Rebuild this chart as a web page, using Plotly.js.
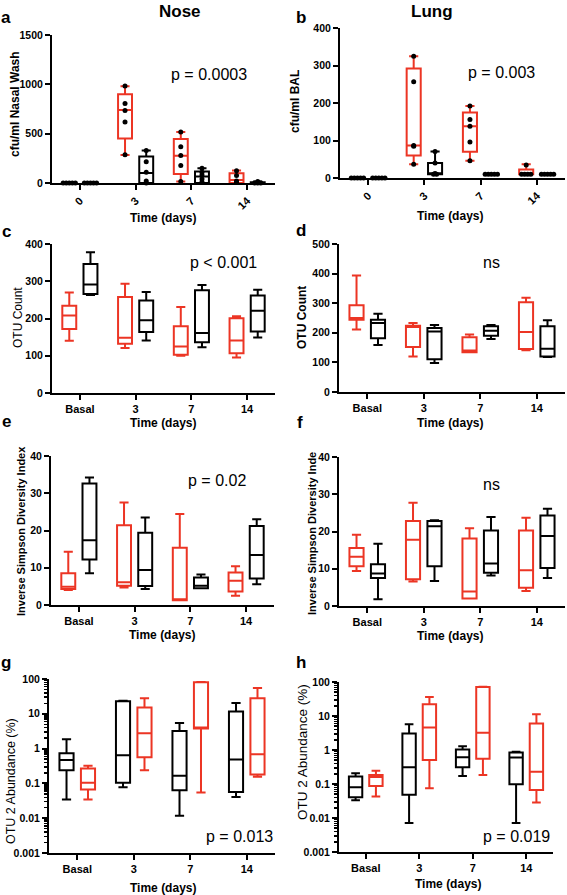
<!DOCTYPE html>
<html><head><meta charset="utf-8">
<script src="https://cdn.plot.ly/plotly-3.0.1.min.js"></script>
<style>html,body{margin:0;padding:0;background:#fff}#chart{width:567px;height:895px}</style>
</head><body><div id="chart"></div>
<script>
// ---------------- DATA ----------------
// each box: [lowerWhisker, q1, median, q3, upperWhisker] per category
const catsCfu = ['0', '3', '7', '14'];
const catsTime = ['Basal', '3', '7', '14'];

const noseCfuRed   = [[0,0,0,0,0],[285,450,740,900,980],[14,92,276,446,517],[0,0,30,99,126]];
const noseCfuBlack = [[0,0,0,0,0],[0,0,102,269,330],[0,0,65,116,150],[0,0,0,8,15]];
const noseCfuRedPts   = [[0,0,0,0,0],[983,806,735,619,286],[517,367,279,177,14],[125,75,20,10,5]];
const noseCfuBlackPts = [[0,0,0,0,0],[330,215,110,20,0],[150,110,80,40,10],[15,5,0,0,0]];

const lungCfuRed   = [[0,0,0,0,0],[37,60,87,292,325],[46,70,138,175,192],[10,10,10,23,37]];
const lungCfuBlack = [[0,0,0,0,0],[10,10,12,40,71],[10,10,10,10,10],[10,10,10,10,10]];
const lungCfuRedPts   = [[0,0,0,0,0],[325,257,87,85,37],[192,156,138,96,46],[35,10,10,10,10]];
const lungCfuBlackPts = [[0,0,0,0,0],[71,40,12,10,10],[10,10,10,10,10],[10,10,10,10,10]];

const noseOtuRed   = [[140,172,208,234,270],[121,132,148,258,293],[100,103,125,179,231],[95,107,141,201,206]];
const noseOtuBlack = [[263,266,291,346,378],[141,164,195,248,271],[123,136,161,276,290],[149,165,221,262,277]];

const lungOtuRed   = [[211,244,250,293,394],[120,152,220,224,233],[134,134,140,185,194],[141,145,203,303,318]];
const lungOtuBlack = [[159,182,233,244,264],[98,111,204,216,226],[179,190,207,222,226],[118,120,146,222,242]];

const noseSimpRed   = [[4.0,4.3,4.9,8.5,14.3],[4.7,5.2,6.1,21.4,27.5],[1.3,1.3,1.5,15.4,24.4],[2.5,3.6,6.5,8.75,10.4]];
const noseSimpBlack = [[8.5,12.2,17.4,32.6,34.2],[4.3,5.1,9.4,19.4,23.5],[4.5,4.5,5.2,7.4,8.2],[5.6,7.1,13.4,21.2,23.0]];

const lungSimpRed   = [[9.4,10.7,13.2,15.6,19.1],[6.6,7.2,17.8,22.8,27.7],[2.0,2.0,3.9,18.1,20.9],[4.0,4.9,9.6,20.3,23.7]];
const lungSimpBlack = [[1.8,7.5,8.7,11.2,16.7],[6.7,10.7,21.4,22.8,23.0],[8.2,8.9,11.4,20.3,23.9],[7.5,10.2,18.8,24.3,26.1]];

const noseOtu2Black = [[0.0345,0.24,0.47,0.73,1.86],[0.077,0.105,0.64,23,23.7],[0.0117,0.064,0.166,3.2,5.4],[0.041,0.057,0.49,11.7,20.3]];
const noseOtu2Red   = [[0.0345,0.067,0.105,0.27,0.32],[0.24,0.56,2.77,15.2,28],[0.055,3.8,3.9,80,82],[0.155,0.18,0.69,28,55]];

const lungOtu2Black = [[0.033,0.041,0.080,0.165,0.206],[0.0071,0.048,0.31,3.06,5.75],[0.172,0.31,0.61,1.04,1.3],[0.0071,0.098,0.6,0.85,0.89]];
const lungOtu2Red   = [[0.043,0.088,0.16,0.185,0.247],[0.075,0.51,4.6,22,36],[0.185,0.55,3.2,71,72],[0.0285,0.067,0.23,6.0,11.3]];

const linTicksCfuNose = [0, 500, 1000, 1500];
const linTicksCfuLung = [0, 100, 200, 300, 400];
const linTicksOtuNose = [0, 100, 200, 300, 400];
const linTicksOtuLung = [0, 100, 200, 300, 400, 500];
const linTicksSimp = [0, 10, 20, 30, 40];
const logTicks = [0.001, 0.01, 0.1, 1, 10, 100];
const logTickText = ['0.001', '0.01', '0.1', '1', '10', '100'];

// ---------------- STYLE / LAYOUT ----------------
const W = 567, H = 895;
const FONT = 'Liberation Sans, Arial, sans-serif';
const RED = '#ec3524', BLACK = '#000000';
const px = x => x / W, py = y => 1 - y / H;

const panels = [
  {xd:[52,275], yd:[35,183], cats:catsCfu, rot:true, range:[0,1500], ticks:linTicksCfuNose,
   series:[{d:noseCfuRed,c:RED,o:-0.19,pts:noseCfuRedPts},{d:noseCfuBlack,c:BLACK,o:0.19,pts:noseCfuBlackPts}]},
  {xd:[340,565], yd:[28,178], cats:catsCfu, rot:true, range:[0,400], ticks:linTicksCfuLung,
   series:[{d:lungCfuRed,c:RED,o:-0.19,pts:lungCfuRedPts},{d:lungCfuBlack,c:BLACK,o:0.19,pts:lungCfuBlackPts}]},
  {xd:[52,275], yd:[244,393], cats:catsTime, range:[0,400], ticks:linTicksOtuNose,
   series:[{d:noseOtuRed,c:RED,o:-0.19},{d:noseOtuBlack,c:BLACK,o:0.19}]},
  {xd:[339,565], yd:[244,392], cats:catsTime, range:[0,500], ticks:linTicksOtuLung,
   series:[{d:lungOtuRed,c:RED,o:-0.19},{d:lungOtuBlack,c:BLACK,o:0.19}]},
  {xd:[51,274], yd:[456,605], cats:catsTime, range:[0,40], ticks:linTicksSimp,
   series:[{d:noseSimpRed,c:RED,o:-0.19},{d:noseSimpBlack,c:BLACK,o:0.19}]},
  {xd:[339,565], yd:[457,606], cats:catsTime, range:[0,40], ticks:linTicksSimp,
   series:[{d:lungSimpRed,c:RED,o:-0.19},{d:lungSimpBlack,c:BLACK,o:0.19}]},
  {xd:[49,275], yd:[679,853], cats:catsTime, log:true,
   series:[{d:noseOtu2Black,c:BLACK,o:-0.19},{d:noseOtu2Red,c:RED,o:0.19}]},
  {xd:[339,553], yd:[682,852], cats:catsTime, log:true,
   series:[{d:lungOtu2Black,c:BLACK,o:-0.19},{d:lungOtu2Red,c:RED,o:0.19}]}
];

const minorLog = [];
for (let k = -3; k <= 1; k++) for (let m = 2; m <= 9; m++) minorLog.push(m * Math.pow(10, k));

const traces = [];
const layout = {
  width: W, height: H, margin:{l:0,r:0,t:0,b:0},
  paper_bgcolor:'#fff', plot_bgcolor:'rgba(0,0,0,0)',
  showlegend:false, font:{family:FONT, color:'#000'}, annotations:[]
};

panels.forEach((p, i) => {
  const n = i + 1, xa = 'x' + n, ya = 'y' + n;
  p.series.forEach(s => {
    traces.push({
      type:'box', xaxis:xa, yaxis:ya,
      x: s.d.map((_, j) => j + s.o),
      lowerfence: s.d.map(v => v[0]), q1: s.d.map(v => v[1]), median: s.d.map(v => v[2]),
      q3: s.d.map(v => v[3]), upperfence: s.d.map(v => v[4]),
      width: 0.25, whiskerwidth: 0.65, boxpoints:false,
      line:{color:s.c, width:2}, fillcolor:'rgba(0,0,0,0)', hoverinfo:'skip'
    });
  });
  p.series.forEach(s => {
    if (!s.pts) return;
    const xs = [], ys = [];
    // spread identical values side by side (scatter-dot style)
    s.pts.forEach((arr, j) => {
      const groups = {};
      arr.forEach(v => { (groups[v] = groups[v] || []).push(v); });
      Object.keys(groups).forEach(k => {
        const g = groups[k], m = g.length;
        g.forEach((v, idx) => { xs.push(j + s.o + (idx - (m - 1) / 2) * 0.055); ys.push(v); });
      });
    });
    traces.push({type:'scatter', mode:'markers', xaxis:xa, yaxis:ya, x:xs, y:ys,
      marker:{color:'#000', size:5}, cliponaxis:false, hoverinfo:'skip'});
  });
  layout['xaxis' + n] = {
    domain:[px(p.xd[0]), px(p.xd[1])], anchor:ya, range:[-0.5, 3.5],
    tickmode:'array', tickvals:[0,1,2,3], ticktext:p.cats, tickangle: p.rot ? -45 : 0,
    showline:true, linecolor:'#000', linewidth:2, ticks:'outside', ticklen:5, tickwidth:2, tickcolor:'#000',
    tickfont:{family:FONT, size:11, weight:'bold', color:'#000'},
    showgrid:false, zeroline:false, fixedrange:true
  };
  const yax = {
    domain:[py(p.yd[1]), py(p.yd[0])], anchor:xa,
    showline:true, linecolor:'#000', linewidth:2, ticks:'outside', ticklen:5, tickwidth:2, tickcolor:'#000',
    tickfont:{family:FONT, size:10.5, weight:'bold', color:'#000'},
    showgrid:false, zeroline:false, fixedrange:true, tickmode:'array'
  };
  if (p.log) {
    Object.assign(yax, {type:'log', range:[-3, 2], tickvals:logTicks, ticktext:logTickText,
      minor:{tickmode:'array', tickvals:minorLog, ticks:'outside', ticklen:3, tickwidth:1.5, tickcolor:'#000', showgrid:false}});
  } else {
    Object.assign(yax, {range:p.range, tickvals:p.ticks, ticktext:p.ticks.map(String)});
  }
  layout['yaxis' + n] = yax;
});

function ann(text, x, y, size, bold, opts) {
  layout.annotations.push(Object.assign({
    text, x:px(x), y:py(y), xref:'paper', yref:'paper', showarrow:false,
    xanchor:'center', yanchor:'middle',
    font:{family:FONT, size, color:'#000', weight: bold ? 'bold' : 'normal'}
  }, opts || {}));
}
// column titles
ann('Nose', 180, 11, 17, true);
ann('Lung', 432, 11, 17, true);
// panel letters
ann('a', 6, 17, 17, true); ann('b', 301, 17, 17, true);
ann('c', 6, 231, 17, true); ann('d', 301, 230, 17, true);
ann('e', 6, 421, 17, true); ann('f', 300, 422, 17, true);
ann('g', 6, 662, 17, true); ann('h', 301, 662, 17, true);
// p values
ann('p = 0.0003', 209, 74, 16, false);
ann('p = 0.003', 501, 72, 16, false);
ann('p < 0.001', 223, 262, 16, false);
ann('ns', 491, 262, 16, false);
ann('p = 0.02', 217, 480, 16, false);
ann('ns', 491, 484, 16, false);
ann('p = 0.013', 239, 836, 16, false);
ann('p = 0.019', 516, 836, 16, false);
// x axis titles
ann('Time (days)', 163, 218, 12, true); ann('Time (days)', 450, 216, 12, true);
ann('Time (days)', 163, 423, 12, true); ann('Time (days)', 450, 423, 12, true);
ann('Time (days)', 162, 635, 12, true); ann('Time (days)', 450, 636, 12, true);
ann('Time (days)', 163, 888, 12, true); ann('Time (days)', 448, 884, 12, true);
// y axis titles
const rot = {textangle:-90};
ann('cfu/ml Nasal Wash', 15, 104, 12, true, rot);
ann('cfu/ml BAL', 295, 102, 12, true, rot);
ann('OTU Count', 18, 318, 12, false, rot);
ann('OTU Count', 302, 318, 12, true, rot);
ann('Inverse Simpson Diversity Index', 21, 531, 11, true, rot);
ann('Inverse Simpson Diversity Inde', 312, 534, 11, true, rot);
ann('OTU 2 Abundance (%)', 11, 781, 12.5, false, rot);
ann('OTU 2 Abundance (%)', 302, 752, 13.5, false, rot);

Plotly.newPlot('chart', traces, layout, {staticPlot:true, displayModeBar:false});
</script></body></html>
